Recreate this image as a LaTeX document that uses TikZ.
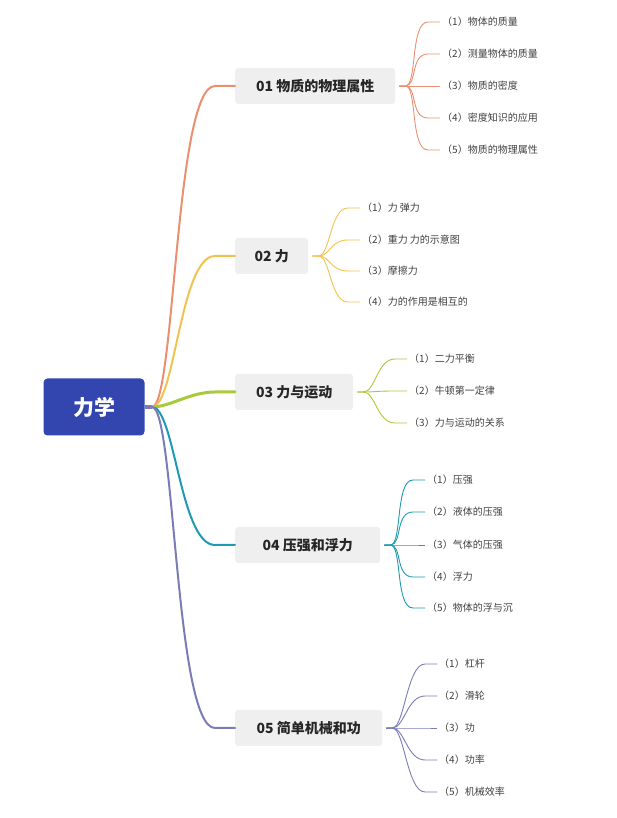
\documentclass[tikz,border=0pt]{standalone}
\usepackage{fontspec}
\setmainfont{Noto Sans CJK SC}
\usetikzlibrary{calc}
\begin{document}
\begin{tikzpicture}[x=1pt,y=1pt,
  rootbox/.style={fill=rootc,rounded corners=4pt,text=white,font=\fontsize{21}{24}\selectfont\bfseries,minimum width=101pt,minimum height=57pt},
  topic/.style={anchor=west,fill=boxg,rounded corners=3pt,font=\fontsize{14}{16}\selectfont\bfseries,text=black!85,minimum height=36pt,inner xsep=4pt},
  leaf/.style={anchor=west,font=\fontsize{10}{12}\selectfont,text=black!75,inner xsep=2pt},
  br/.style={line width=2pt,line cap=round},
  lf/.style={line width=0.9pt}]
\definecolor{rootc}{HTML}{3345AE}
\definecolor{boxg}{HTML}{EFEFEF}
\definecolor{ca}{HTML}{EA9070}
\definecolor{cb}{HTML}{F2C24E}
\definecolor{cc}{HTML}{A9C93C}
\definecolor{cd}{HTML}{1E9AB2}
\definecolor{ce}{HTML}{7A7DB5}
\useasboundingbox (0,0) rectangle (616,818);
\node[rootbox] (root) at (94,411) {力学};
\coordinate (rs) at (152,411);
\draw[line width=4pt,ce] (root.east) -- (rs);
\node[topic,minimum width=160pt] (t1) at (235,732) {01 物质的物理属性};
\node[topic,minimum width=73pt] (t2) at (235,562) {02 力};
\node[topic,minimum width=118pt] (t3) at (235,426) {03 力与运动};
\node[topic,minimum width=145pt] (t4) at (235,273) {04 压强和浮力};
\node[topic,minimum width=147pt] (t5) at (235,90) {05 简单机械和功};
\draw[br,ca] (rs) .. controls (175,411) and (175,732) .. (215,732) -- (t1.west);
\draw[br,cb] (rs) .. controls (175,411) and (180,562) .. (215,562) -- (t2.west);
\draw[br,cc,line width=3pt] (rs) .. controls (170,411) and (190,426) .. (215,426) -- (t3.west);
\draw[br,cd] (rs) .. controls (175,411) and (180,273) .. (215,273) -- (t4.west);
\draw[br,ce] (rs) .. controls (175,411) and (175,90) .. (215,90) -- (t5.west);
% leaves
\foreach \pn/\col/\x/\lst in {
 t1/ca/440/{796/（1）物体的质量,764/（2）测量物体的质量,732/（3）物质的密度,700/（4）密度知识的应用,668/（5）物质的物理属性},
 t2/cb/360/{610/（1）力 弹力,578/（2）重力 力的示意图,547/（3）摩擦力,516/（4）力的作用是相互的},
 t3/cc/407/{459/（1）二力平衡,427/（2）牛顿第一定律,395/（3）力与运动的关系},
 t4/cd/425/{338/（1）压强,306/（2）液体的压强,273/（3）气体的压强,241/（4）浮力,210/（5）物体的浮与沉},
 t5/ce/437/{154/（1）杠杆,122/（2）滑轮,90/（3）功,58/（4）功率,26/（5）机械效率}} {
  \foreach \yy/\txt [count=\i] in \lst {
    \node[leaf] (\pn-\i) at (\x,\yy) {\txt};
    \draw[lf,\col] (\pn.east) ++(4,0) -- ++(6,0) coordinate (\pn-j\i)
       .. controls ++(12,0) and ($(\pn-\i.west)+(-30,0)$) .. ($(\pn-\i.west)+(-12,0)$) -- (\pn-\i.west);
  }
}
\end{tikzpicture}
\end{document}
